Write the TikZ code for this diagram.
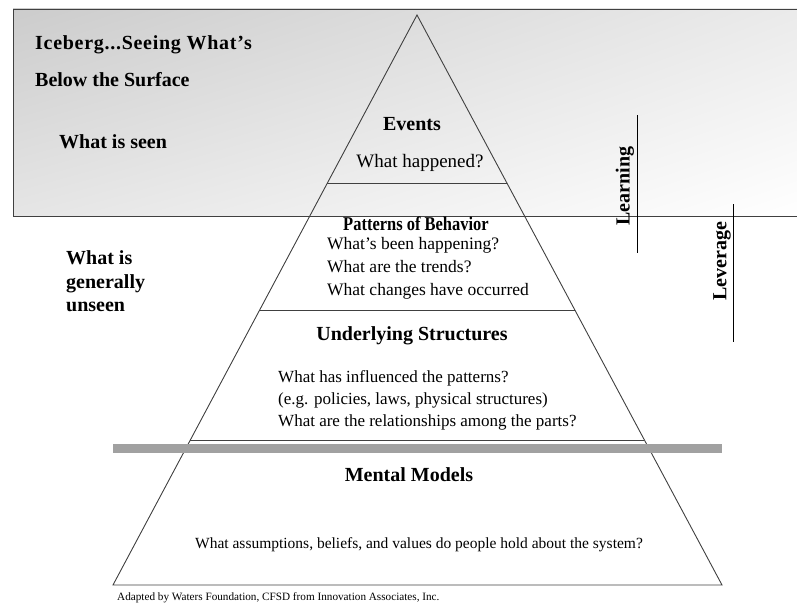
\documentclass[tikz,border=0pt]{standalone}
\usepackage{fontspec}
\setmainfont{Liberation Serif}
\usetikzlibrary{shadings,calc}
\begin{document}
\begin{tikzpicture}[x=1pt,y=-1pt,
  edge/.style={draw=black!75,line width=0.9pt},
  bt/.style={font=\fontsize{20}{22}\selectfont\bfseries,inner sep=0pt},
  rt/.style={font=\fontsize{17.5}{20}\selectfont,inner sep=0pt},
  vline/.style={draw=black,line width=0.8pt}]
\useasboundingbox (0,0) rectangle (797,602);
% surface box
\shade[upper left=black!20,upper right=black!8,lower left=black!10,lower right=white]
  (13,9) rectangle (797,216);
\draw[black!75,line width=0.9pt] (797,9) -- (13,9) -- (13,216) -- (797,216);
% pyramid
\coordinate (apex) at (417,15);
\coordinate (bl) at (113,585);
\coordinate (br) at (722,585);
\draw[edge] (bl) -- (apex) -- (br) -- cycle;
\coordinate (l1) at ($(apex)!0.2947!(bl)$);
\coordinate (r1) at ($(apex)!0.2947!(br)$);
\coordinate (l2) at ($(apex)!0.5175!(bl)$);
\coordinate (r2) at ($(apex)!0.5175!(br)$);
\coordinate (l3) at ($(apex)!0.7456!(bl)$);
\coordinate (r3) at ($(apex)!0.7456!(br)$);
\draw[edge] (l1) -- (r1);
\draw[edge] (l2) -- (r2);
\draw[edge] (l3) -- (r3);
% water line
\draw[draw=black!37,line width=9pt] (113,448) coordinate (wl) -- (722,448) coordinate (wr);
% left labels
\node[bt,anchor=base west,font=\fontsize{20}{22}\selectfont\bfseries\addfontfeature{LetterSpace=3.6}] (title1) at (35,49) {Iceberg...Seeing What’s};
\node[bt,anchor=base west] (title2) at (35,86) {Below the Surface};
\node[bt,anchor=base west] (seen) at (59,148) {What is seen};
\node[bt,anchor=base west] (unseen1) at (66,264) {What is};
\node[bt,anchor=base west] (unseen2) at (66,288) {generally};
\node[bt,anchor=base west] (unseen3) at (66,311) {unseen};
% levels
\node[bt,anchor=base] (events) at (412,130) {Events};
\node[rt,anchor=base,font=\fontsize{19}{21}\selectfont] (eventsq) at (420,167) {What happened?};
\node[bt,anchor=base,font=\fontsize{19.5}{21}\selectfont\bfseries,xscale=0.845] (patterns) at (416,230) {Patterns of Behavior};
\node[rt,anchor=base west] (pq1) at (327,249) {What’s been happening?};
\node[rt,anchor=base west] (pq2) at (327,272) {What are the trends?};
\node[rt,anchor=base west] (pq3) at (327,295) {What changes have occurred};
\node[bt,anchor=base] (structures) at (412,340) {Underlying Structures};
\node[rt,anchor=base west,font=\fontsize{17}{20}\selectfont] (sq1) at (278,382) {What has influenced the patterns?};
\node[rt,anchor=base west,font=\fontsize{17}{20}\selectfont] (sq2) at (278,404) {(e.g. policies, laws, physical structures)};
\node[rt,anchor=base west,font=\fontsize{17}{20}\selectfont] (sq3) at (278,426) {What are the relationships among the parts?};
\node[bt,anchor=base] (mental) at (409,481) {Mental Models};
\node[rt,anchor=base,font=\fontsize{15.5}{18}\selectfont] (mentalq) at (419,548) {What assumptions, beliefs, and values do people hold about the system?};
\node[rt,anchor=base west,font=\fontsize{11.2}{13}\selectfont] (credit) at (117,600) {Adapted by Waters Foundation, CFSD from Innovation Associates, Inc.};
% learning / leverage
\coordinate (lt) at (637,115);
\coordinate (lb) at (637,253);
\draw[vline] (lt) -- (lb);
\node[bt,rotate=90] (learning) at (625,186) {Learning};
\coordinate (vt) at (733,204);
\coordinate (vb) at (733,342);
\draw[vline] (vt) -- (vb);
\node[bt,rotate=90] (leverage) at (722,261) {Leverage};
\end{tikzpicture}
\end{document}
